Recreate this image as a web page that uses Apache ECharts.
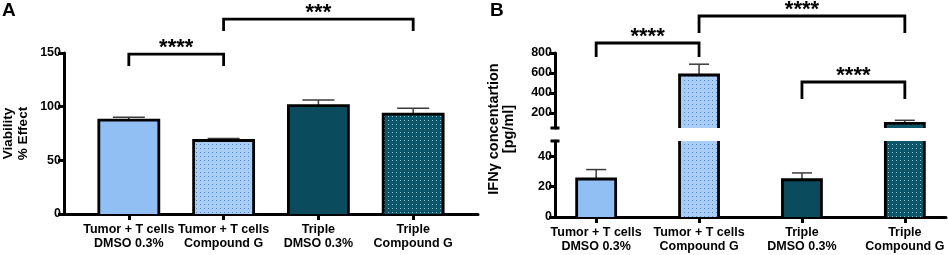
<!DOCTYPE html>
<html><head><meta charset="utf-8">
<script src="https://cdn.jsdelivr.net/npm/echarts@6/dist/echarts.min.js"></script>
<style>html,body{margin:0;padding:0;background:#fff}#c{width:948px;height:255px}</style>
</head><body><div id="c"></div>
<script>
// ---------- data ----------
const categories = ['Tumor + T cells\nDMSO 0.3%', 'Tumor + T cells\nCompound G', 'Triple\nDMSO 0.3%', 'Triple\nCompound G'];
const viability = [87.5, 68.5, 101, 93];
const viabilityErr = [2.6, 1.9, 5.2, 5.6];
const ifng = [25, 580, 24.5, 97];
const ifngErr = [6.2, 108, 4.5, 30];
const ticksA = [0, 50, 100, 150];
const ticksBLow = [0, 20, 40];
const ticksBHigh = [200, 400, 600, 800];
// brackets: [fromCategory, toCategory, bracketTopValue, legBottomValue]
const bracketsA = [[1, 2, 149, 138], [2, 4, 181.5, 170.5]];
const starsA = ['****', '***'];
const bracketsB = [[1, 2, 900, 760], [2, 4, 1170, 1000], [3, 4, 510, 340]];
const starsB = ['****', '****', '****'];

// ---------- styles ----------
const barFills = ['#91bff3', '#a9cdf4', '#0a4b5e', '#0d5568'];
const dotColors = [null, '#5286d0', null, '#8cc6d1'];
const FONT = 'Arial, "Liberation Sans", Helvetica, sans-serif';
const AX = {color: '#000', width: 3};
const catIdx = categories.map((c, i) => i + 1);

function barData(vals, lo) {
  return vals.map((v, i) => ({
    value: [i + 1, (lo != null && v <= lo) ? '-' : v],
    itemStyle: {
      color: barFills[i], borderWidth: 0,
      decal: dotColors[i] ? {symbol: 'rect', symbolSize: 1, dashArrayX: [1, 2.2], dashArrayY: [1, 2.2], rotation: 0, color: dotColors[i]} : undefined
    }
  }));
}
function outlineSeries(xi, yi, vals, width, yMin, yMax) {
  return {
    type: 'custom', xAxisIndex: xi, yAxisIndex: yi, clip: false, z: 5, silent: true,
    data: vals.map((v, i) => [i + 1, v]),
    renderItem(params, api) {
      const x = api.value(0), v = api.value(1);
      if (v <= yMin) return {type: 'group', children: []};
      const pB = api.coord([x, yMin]);
      const pT = api.coord([x, Math.min(v, yMax)]);
      const l = pB[0] - width / 2, r = pB[0] + width / 2;
      const st = {stroke: '#000', lineWidth: 2.8, fill: null, lineJoin: 'miter'};
      if (v > yMax) {
        return {type: 'group', children: [
          {type: 'line', shape: {x1: l, y1: pB[1], x2: l, y2: pT[1]}, style: st},
          {type: 'line', shape: {x1: r, y1: pB[1], x2: r, y2: pT[1]}, style: st}
        ]};
      }
      return {type: 'polyline', shape: {points: [[l, pB[1]], [l, pT[1]], [r, pT[1]], [r, pB[1]]]}, style: st};
    }
  };
}
function errSeries(xi, yi, vals, errs, cap, yMin, yMax) {
  return {
    type: 'custom', xAxisIndex: xi, yAxisIndex: yi, clip: false, z: 4, silent: true,
    data: vals.map((v, i) => [i + 1, v, errs[i]]),
    renderItem(params, api) {
      const x = api.value(0), v = api.value(1), e = api.value(2);
      if (v <= yMin || v > yMax) return {type: 'group', children: []};
      const p0 = api.coord([x, v]), p1 = api.coord([x, v + e]);
      const st = {stroke: '#3a3a3a', lineWidth: 1.5};
      return {type: 'group', children: [
        {type: 'line', shape: {x1: p0[0], y1: p0[1], x2: p1[0], y2: p1[1]}, style: st},
        {type: 'line', shape: {x1: p1[0] - cap / 2, y1: p1[1], x2: p1[0] + cap / 2, y2: p1[1]}, style: st}
      ]};
    }
  };
}
function bracketSeries(xi, yi, br, stars) {
  return {
    type: 'custom', xAxisIndex: xi, yAxisIndex: yi, clip: false, z: 6, silent: true,
    data: br.map(b => b.slice()),
    encode: {x: [0, 1], y: [2, 3]},
    renderItem(params, api) {
      const a = api.coord([api.value(0), api.value(2)]);
      const b = api.coord([api.value(1), api.value(2)]);
      const la = api.coord([api.value(0), api.value(3)]);
      return {type: 'group', children: [
        {type: 'polyline', shape: {points: [[a[0], la[1]], [a[0], a[1]], [b[0], b[1]], [b[0], la[1]]]},
         style: {stroke: '#000', lineWidth: 2.8, fill: null, lineJoin: 'miter'}},
        {type: 'text', style: {text: stars[params.dataIndex], x: (a[0] + b[0]) / 2, y: a[1] - 6,
         align: 'center', verticalAlign: 'middle', font: 'bold 22px ' + FONT, fill: '#000'}}
      ]};
    }
  };
}
function yAxisBase(gi, min, max, ticks) {
  return {
    type: 'value', gridIndex: gi, min: min, max: max,
    axisLine: {show: true, onZero: false, lineStyle: AX},
    axisTick: {show: true, length: 6, lineStyle: AX, customValues: ticks},
    axisLabel: {customValues: ticks, margin: 3, color: '#000', fontWeight: 'bold', fontSize: 12.5, fontFamily: FONT},
    splitLine: {show: false}
  };
}
function xAxisBase(gi, min, max, show) {
  return {
    type: 'value', gridIndex: gi, min: min, max: max, show: show,
    axisLine: {show: true, onZero: false, lineStyle: AX},
    axisTick: {show: true, length: 6, lineStyle: AX, customValues: catIdx},
    axisLabel: {customValues: catIdx, margin: 9, color: '#000', fontWeight: 'bold', fontSize: 12.5, lineHeight: 14,
      fontFamily: FONT, formatter: v => categories[Math.round(v) - 1] || ''},
    splitLine: {show: false}
  };
}

const yA = yAxisBase(0, 0, 150, ticksA);
yA.name = 'Viability\n% Effect';
yA.nameLocation = 'middle'; yA.nameRotate = 90; yA.nameGap = 33;
yA.nameTextStyle = {color: '#000', fontWeight: 'bold', fontSize: 13.5, lineHeight: 15, fontFamily: FONT};

const yBHigh = yAxisBase(1, 50, 800, ticksBHigh);
yBHigh.axisLine.symbol = ['rect', 'none'];
yBHigh.axisLine.symbolSize = [9, 3];
const yBLow = yAxisBase(2, 0, 50, ticksBLow);
yBLow.axisLine.symbol = ['none', 'rect'];
yBLow.axisLine.symbolSize = [9, 3];
const yBName = {
  type: 'value', gridIndex: 3, min: 0, max: 1,
  axisLine: {show: false}, axisTick: {show: false}, axisLabel: {show: false}, splitLine: {show: false},
  name: 'IFNγ concentartion\n[pg/ml]', nameLocation: 'middle', nameRotate: 90, nameGap: 39,
  nameTextStyle: {color: '#000', fontWeight: 'bold', fontSize: 14.5, lineHeight: 15, fontFamily: FONT}
};

const option = {
  animation: false,
  backgroundColor: '#fff',
  title: [
    {text: 'A', left: 2, top: 1, padding: 0, textStyle: {fontSize: 19, fontWeight: 'bold', color: '#000', fontFamily: FONT}},
    {text: 'B', left: 490, top: 1, padding: 0, textStyle: {fontSize: 19, fontWeight: 'bold', color: '#000', fontFamily: FONT}}
  ],
  grid: [
    {left: 64, top: 53, width: 414, height: 161},
    {left: 555, top: 53, width: 391, height: 75},
    {left: 555, top: 141, width: 391, height: 76},
    {left: 555, top: 41, width: 391, height: 176}
  ],
  xAxis: [xAxisBase(0, 0.316, 4.684, true), xAxisBase(1, 0.6, 4.4, false), xAxisBase(2, 0.6, 4.4, true), xAxisBase(3, 0, 1, false)],
  yAxis: [yA, yBHigh, yBLow, yBName],
  series: [
    {type: 'bar', xAxisIndex: 0, yAxisIndex: 0, barWidth: 60, z: 2, data: barData(viability)},
    errSeries(0, 0, viability, viabilityErr, 32, 0, 150),
    outlineSeries(0, 0, viability, 60, 0, 150),
    bracketSeries(0, 0, bracketsA, starsA),

    {type: 'bar', xAxisIndex: 1, yAxisIndex: 1, barWidth: 39, z: 2, clip: true, data: barData(ifng, 50)},
    errSeries(1, 1, ifng, ifngErr, 20, 50, 800),
    outlineSeries(1, 1, ifng, 39, 50, 800),
    bracketSeries(1, 1, bracketsB, starsB),

    {type: 'bar', xAxisIndex: 2, yAxisIndex: 2, barWidth: 39, z: 2, clip: true, data: barData(ifng)},
    errSeries(2, 2, ifng, ifngErr, 20, 0, 50),
    outlineSeries(2, 2, ifng, 39, 0, 50)
  ]
};
const chart = echarts.init(document.getElementById('c'), null, {renderer: 'canvas'});
chart.setOption(option);
</script>
</body></html>
